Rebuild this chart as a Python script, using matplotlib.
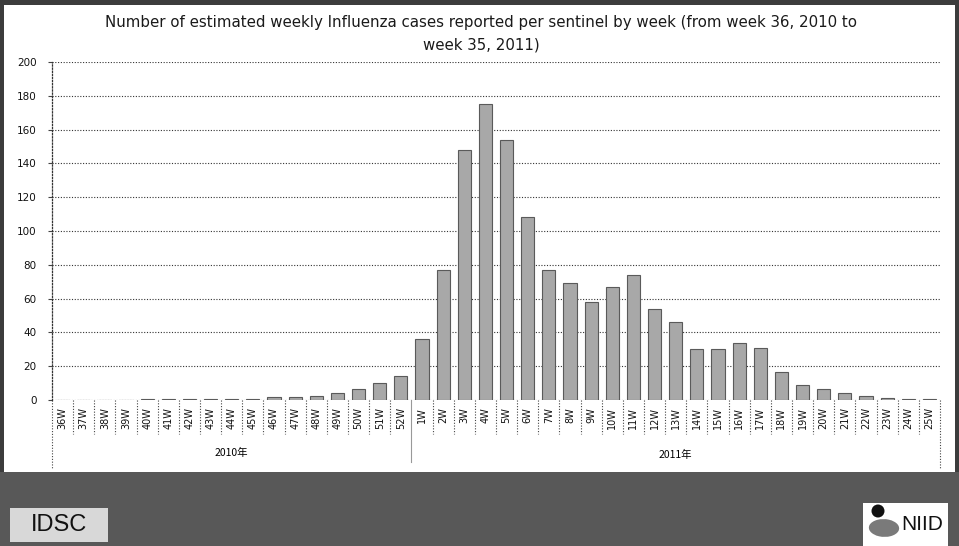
import matplotlib
matplotlib.use("Agg")
import matplotlib.pyplot as plt
from matplotlib.patches import Rectangle, Ellipse
from matplotlib.transforms import blended_transform_factory

weeks_2010 = ["36W", "37W", "38W", "39W", "40W", "41W", "42W", "43W", "44W",
              "45W", "46W", "47W", "48W", "49W", "50W", "51W", "52W"]
weeks_2011 = ["1W", "2W", "3W", "4W", "5W", "6W", "7W", "8W", "9W", "10W",
              "11W", "12W", "13W", "14W", "15W", "16W", "17W", "18W", "19W",
              "20W", "21W", "22W", "23W", "24W", "25W"]
values_2010 = [0.1, 0.1, 0.1, 0.1, 0.6, 0.6, 0.5, 0.5, 0.4, 0.4, 1.5, 1.5,
               2.6, 4.0, 6.5, 10.0, 14.0]
values_2011 = [36, 77, 148, 175, 154, 108, 77, 69, 58, 67, 74, 54, 46, 30,
               30, 34, 31, 16.5, 9, 6.5, 4, 2.2, 1.3, 0.6, 0.6]
year_labels = ["2010年", "2011年"]
title = ("Number of estimated weekly Influenza cases reported per sentinel by week "
         "(from week 36, 2010 to\nweek 35, 2011)")
yticks = list(range(0, 201, 20))

W, H = 959, 546
fig = plt.figure(figsize=(W / 100, H / 100), dpi=100)
fig.patch.set_facecolor("#3c3c3c")

def fx(px):
    return px / W

def fy(py):
    return 1 - py / H

# white panel and bottom band
fig.patches.append(Rectangle((fx(4), fy(472)), fx(951), (472 - 5) / H,
                             transform=fig.transFigure, facecolor="white", edgecolor="none", zorder=-5))
fig.patches.append(Rectangle((0, 0), 1, fy(472), transform=fig.transFigure,
                             facecolor="#585858", edgecolor="none", zorder=-5))

left, right, top, bottom = 52, 940, 62, 400
ax = fig.add_axes([fx(left), fy(bottom), fx(right - left), (bottom - top) / H])
ax.set_facecolor("none")

cats = weeks_2010 + weeks_2011
vals = values_2010 + values_2011
x = list(range(len(cats)))
dot = (0, (1, 1.5))

ax.bar(x, vals, width=0.62, color="#a8a8a8", edgecolor="#5a5a5a", linewidth=0.8, zorder=3)
ax.set_xlim(-0.5, len(cats) - 0.5)
ax.set_ylim(0, 200)
ax.set_yticks(yticks)
ax.set_yticklabels([str(v) for v in yticks], fontsize=7.5, color="#111")
ax.tick_params(axis="y", length=3, width=0.8, color="#444", pad=8)
ax.set_xticks(x)
ax.set_xticklabels(cats, rotation=90, fontsize=7, color="#111")
ax.tick_params(axis="x", length=0, pad=5)
for s in ["top", "right", "bottom"]:
    ax.spines[s].set_visible(False)
ax.spines["left"].set_linestyle(dot)
ax.spines["left"].set_color("#333")
ax.spines["left"].set_linewidth(0.9)
for v in yticks:
    ax.axhline(v, color="#333", linestyle=dot, linewidth=0.8, zorder=1)

trans = blended_transform_factory(ax.transData, ax.transAxes)
ph = bottom - top
n2010 = len(weeks_2010)
for i in range(1, len(cats)):
    if i == n2010:
        ax.plot([i - 0.5, i - 0.5], [0, -(462 - bottom) / ph], transform=trans,
                color="#999", linewidth=0.8, clip_on=False)
    else:
        ax.plot([i - 0.5, i - 0.5], [0, -(434 - bottom) / ph], transform=trans,
                color="#444", linestyle=dot, linewidth=0.8, clip_on=False)
for xe in [-0.5, len(cats) - 0.5]:
    ax.plot([xe, xe], [0, -(468 - bottom) / ph], transform=trans,
            color="#444", linestyle=dot, linewidth=0.8, clip_on=False)

ax.text((n2010 - 1) / 2, -(453 - bottom) / ph, year_labels[0], transform=trans,
        ha="center", va="center", fontsize=7.5, family=["Noto Sans CJK JP", "DejaVu Sans"])
ax.text(n2010 + (len(weeks_2011) - 1) / 2, -(455 - bottom) / ph, year_labels[1], transform=trans,
        ha="center", va="center", fontsize=7.5, family=["Noto Sans CJK JP", "DejaVu Sans"])

fig.text(fx(481), fy(34), title, ha="center", va="center", fontsize=10.8,
         linespacing=1.6, color="#1a1a1a", family="DejaVu Sans")

# IDSC box
fig.patches.append(Rectangle((fx(10), fy(542)), fx(98), (542 - 508) / H, transform=fig.transFigure,
                             facecolor="#d8d8d8", edgecolor="none", zorder=1))
fig.text(fx(59), fy(525), "IDSC", ha="center", va="center", fontsize=17, color="#111",
         family="Liberation Sans")

# NIID box
fig.patches.append(Rectangle((fx(863), 0), fx(85), (546 - 503) / H, transform=fig.transFigure,
                             facecolor="white", edgecolor="none", zorder=1))
fig.patches.append(Ellipse((fx(878), fy(511)), fx(13), 13 / H, transform=fig.transFigure,
                           facecolor="#111", edgecolor="none", zorder=2))
fig.patches.append(Ellipse((fx(884), fy(528)), fx(30), 18 / H, angle=25, transform=fig.transFigure,
                           facecolor="#7a7a7a", edgecolor="none", zorder=2))
fig.text(fx(922), fy(524), "NIID", ha="center", va="center", fontsize=15, color="#111",
         family="Liberation Sans")

fig.savefig("out.png", dpi=100)
